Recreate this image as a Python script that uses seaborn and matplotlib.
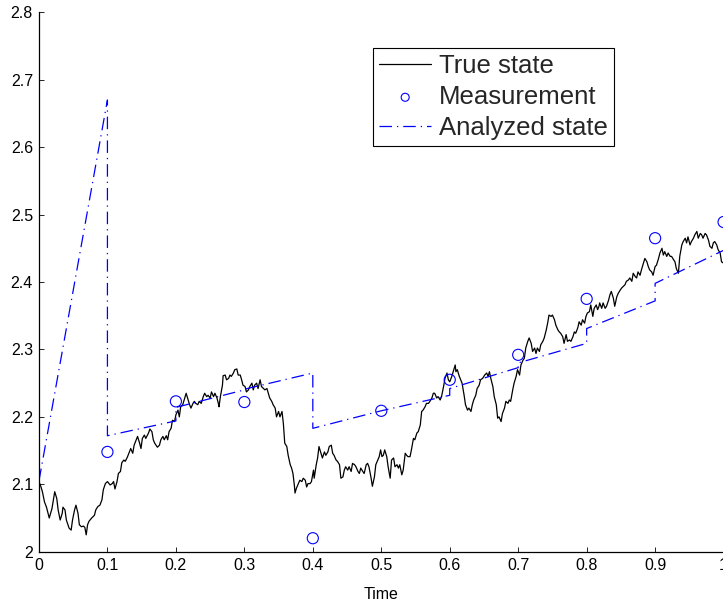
import matplotlib
matplotlib.use("Agg")
import matplotlib.pyplot as plt
import seaborn as sns
import pandas as pd

# ---------------- data ----------------
true_t = [0.000, 0.003, 0.005, 0.008, 0.011, 0.015, 0.019, 0.021, 0.023, 0.026, 0.028, 0.031, 0.034, 0.035,
          0.038, 0.040, 0.044, 0.047, 0.049, 0.052, 0.054, 0.057, 0.059, 0.062, 0.065, 0.067, 0.069, 0.071,
          0.073, 0.077, 0.081, 0.083, 0.086, 0.089, 0.092, 0.094, 0.097, 0.100, 0.104, 0.107, 0.109, 0.111,
          0.114, 0.116, 0.119, 0.121, 0.124, 0.126, 0.129, 0.132, 0.134, 0.137, 0.139, 0.142, 0.144, 0.147,
          0.149, 0.151, 0.154, 0.156, 0.160,
          0.162, 0.165, 0.167, 0.169, 0.173, 0.176, 0.178, 0.181, 0.183, 0.186, 0.188, 0.190, 0.193, 0.195,
          0.198, 0.200, 0.203, 0.205, 0.207, 0.210, 0.212, 0.215, 0.217, 0.220, 0.222, 0.225, 0.227, 0.229,
          0.232, 0.234, 0.237, 0.240, 0.242, 0.245, 0.247, 0.250, 0.252, 0.255, 0.257, 0.260, 0.262, 0.263,
          0.265, 0.268, 0.269, 0.272, 0.274, 0.277, 0.279, 0.281, 0.284, 0.286, 0.289, 0.291, 0.294, 0.296,
          0.298, 0.301, 0.303, 0.306, 0.308, 0.311, 0.313, 0.315, 0.318, 0.320,
          0.323, 0.325, 0.328, 0.330, 0.333, 0.335, 0.337, 0.340, 0.342, 0.345, 0.347, 0.350, 0.352, 0.355,
          0.357, 0.359, 0.362, 0.364, 0.367, 0.369, 0.371, 0.373, 0.374, 0.376, 0.379, 0.381, 0.384, 0.386,
          0.389, 0.391, 0.393, 0.396, 0.398, 0.401, 0.402, 0.405, 0.407, 0.409, 0.412, 0.414, 0.417, 0.419,
          0.422, 0.424, 0.427, 0.429, 0.431, 0.434, 0.436, 0.439, 0.441, 0.444, 0.446, 0.448, 0.451, 0.453,
          0.456, 0.458, 0.461, 0.463, 0.466, 0.468, 0.470, 0.473, 0.475, 0.478, 0.480, 0.482, 0.485, 0.487,
          0.490, 0.492, 0.495, 0.497, 0.499, 0.501, 0.503, 0.505, 0.508, 0.510, 0.513, 0.515, 0.518, 0.520,
          0.523, 0.525, 0.527, 0.530, 0.532, 0.535, 0.537, 0.539, 0.542, 0.544, 0.547, 0.549, 0.552, 0.554,
          0.557, 0.559, 0.561, 0.564, 0.566, 0.569, 0.571, 0.574, 0.576, 0.578, 0.581, 0.583, 0.586, 0.588,
          0.591, 0.593, 0.596, 0.598, 0.600, 0.603, 0.605, 0.608, 0.609, 0.611, 0.614, 0.616, 0.618, 0.621,
          0.623, 0.626, 0.628, 0.631, 0.633, 0.635, 0.638, 0.640, 0.643, 0.645, 0.648, 0.651,
          0.654, 0.656, 0.658, 0.660, 0.663, 0.665, 0.668, 0.670, 0.672, 0.675, 0.677, 0.680, 0.682, 0.685,
          0.687, 0.689, 0.692, 0.694, 0.697, 0.699, 0.702, 0.704, 0.707, 0.709, 0.711, 0.714, 0.716, 0.719,
          0.721, 0.724, 0.726, 0.728, 0.731, 0.733, 0.736, 0.738, 0.741, 0.743, 0.745, 0.748, 0.750, 0.753,
          0.755, 0.758, 0.760, 0.762, 0.765, 0.767, 0.770, 0.772, 0.775, 0.777, 0.780, 0.782, 0.784, 0.787,
          0.789, 0.792, 0.794, 0.797, 0.799, 0.801, 0.804, 0.806, 0.809, 0.811, 0.814, 0.816, 0.818,
          0.819, 0.822, 0.824, 0.827, 0.829, 0.832, 0.834, 0.836, 0.839, 0.841, 0.844, 0.846, 0.849, 0.851,
          0.853, 0.856, 0.858, 0.861, 0.863, 0.866, 0.868, 0.871, 0.873, 0.875, 0.878, 0.880, 0.883, 0.885,
          0.888, 0.890, 0.892, 0.895, 0.897, 0.900, 0.902, 0.905, 0.907, 0.910, 0.912, 0.914, 0.917, 0.919,
          0.922, 0.924, 0.927, 0.929, 0.931, 0.934, 0.936, 0.939, 0.941, 0.944, 0.946, 0.948, 0.951, 0.953,
          0.956, 0.958, 0.961, 0.963, 0.966, 0.968, 0.970, 0.973, 0.975, 0.978, 0.980, 0.983, 0.985, 0.987,
          0.990, 0.992, 0.995, 0.997, 1.000]

true_y = [2.104, 2.096, 2.089, 2.074, 2.066, 2.050, 2.064, 2.077, 2.089, 2.079, 2.062, 2.047, 2.057, 2.066,
          2.062, 2.047, 2.035, 2.032, 2.047, 2.062, 2.069, 2.057, 2.040, 2.037, 2.038, 2.036, 2.025, 2.040,
          2.045, 2.050, 2.054, 2.062, 2.067, 2.069, 2.077, 2.092, 2.101, 2.104, 2.099, 2.101, 2.104, 2.093,
          2.104, 2.116, 2.119, 2.132, 2.136, 2.134, 2.140, 2.148, 2.153, 2.146, 2.158, 2.166, 2.171, 2.161,
          2.153, 2.168, 2.173, 2.168, 2.176,
          2.182, 2.178, 2.166, 2.161, 2.155, 2.158, 2.166, 2.171, 2.166, 2.172, 2.166, 2.178, 2.183, 2.195,
          2.193, 2.203, 2.210, 2.200, 2.215, 2.218, 2.225, 2.235, 2.228, 2.218, 2.213, 2.220, 2.223, 2.220,
          2.218, 2.223, 2.220, 2.230, 2.235, 2.230, 2.232, 2.228, 2.237, 2.230, 2.235, 2.228, 2.220, 2.215,
          2.230, 2.247, 2.261, 2.262, 2.255, 2.257, 2.262, 2.260, 2.265, 2.270, 2.271, 2.262, 2.262, 2.255,
          2.247, 2.245, 2.237, 2.240, 2.245, 2.250, 2.240, 2.247, 2.250, 2.242,
          2.255, 2.245, 2.242, 2.240, 2.242, 2.235, 2.228, 2.223, 2.218, 2.213, 2.200, 2.208, 2.200, 2.208,
          2.190, 2.161, 2.156, 2.143, 2.129, 2.124, 2.116, 2.099, 2.087, 2.094, 2.101, 2.106, 2.104, 2.109,
          2.106, 2.096, 2.101, 2.101, 2.104, 2.121, 2.109, 2.129, 2.139, 2.156, 2.146, 2.139, 2.148, 2.143,
          2.148, 2.156, 2.158, 2.146, 2.143, 2.136, 2.134, 2.129, 2.109, 2.111, 2.121, 2.126, 2.121, 2.126,
          2.119, 2.131, 2.129, 2.126, 2.119, 2.116, 2.124, 2.119, 2.116, 2.129, 2.131, 2.126, 2.110, 2.097,
          2.111, 2.129, 2.136, 2.141, 2.151, 2.141, 2.143, 2.151, 2.141, 2.126, 2.109, 2.136, 2.139, 2.126,
          2.129, 2.124, 2.129, 2.114, 2.121, 2.146, 2.143, 2.141, 2.141, 2.151, 2.168, 2.166, 2.176, 2.178,
          2.188, 2.208, 2.210, 2.215, 2.220, 2.220, 2.223, 2.228, 2.235, 2.235, 2.228, 2.230, 2.225, 2.230,
          2.245, 2.257, 2.265, 2.255, 2.252, 2.260, 2.267, 2.277, 2.267, 2.270, 2.260, 2.255, 2.250, 2.232,
          2.218, 2.210, 2.213, 2.208, 2.218, 2.225, 2.232, 2.242, 2.247, 2.255, 2.257, 2.262,
          2.265, 2.260, 2.267, 2.257, 2.245, 2.230, 2.218, 2.198, 2.200, 2.193, 2.205, 2.213, 2.223, 2.220,
          2.225, 2.223, 2.240, 2.250, 2.260, 2.270, 2.262, 2.277, 2.284, 2.287, 2.302, 2.312, 2.317, 2.309,
          2.297, 2.302, 2.294, 2.302, 2.297, 2.307, 2.312, 2.317, 2.329, 2.339, 2.351, 2.349, 2.351, 2.344,
          2.336, 2.329, 2.326, 2.324, 2.319, 2.309, 2.322, 2.312, 2.314, 2.312, 2.319, 2.326, 2.324, 2.332,
          2.341, 2.336, 2.344, 2.339, 2.349, 2.354, 2.356, 2.366, 2.349, 2.361, 2.366, 2.359, 2.364,
          2.369, 2.361, 2.369, 2.361, 2.364, 2.373, 2.381, 2.386, 2.376, 2.364, 2.378, 2.383, 2.388, 2.391,
          2.393, 2.396, 2.401, 2.403, 2.406, 2.401, 2.413, 2.408, 2.406, 2.415, 2.410, 2.418, 2.428, 2.435,
          2.430, 2.423, 2.418, 2.415, 2.410, 2.423, 2.425, 2.435, 2.443, 2.450, 2.440, 2.445, 2.438, 2.443,
          2.438, 2.438, 2.433, 2.430, 2.420, 2.413, 2.438, 2.455, 2.460, 2.465, 2.458, 2.467, 2.455, 2.460,
          2.465, 2.470, 2.475, 2.465, 2.472, 2.470, 2.465, 2.472, 2.470, 2.462, 2.453, 2.450, 2.458, 2.460,
          2.455, 2.448, 2.443, 2.430, 2.428]

meas_t = [0.1, 0.2, 0.3, 0.4, 0.5, 0.6, 0.7, 0.8, 0.9, 1.0]
meas_y = [2.148, 2.223, 2.222, 2.020, 2.209, 2.255, 2.292, 2.375, 2.465, 2.489]

ana_t = [0.0, 0.1, 0.1, 0.2, 0.2, 0.3, 0.3, 0.4, 0.4, 0.5, 0.5, 0.6, 0.6, 0.7, 0.7, 0.8, 0.8, 0.9, 0.9, 1.0]
ana_y = [2.105, 2.670, 2.172, 2.194, 2.214, 2.240, 2.241, 2.265, 2.183, 2.209, 2.209, 2.232, 2.242, 2.273,
         2.280, 2.309, 2.331, 2.372, 2.398, 2.447]

xtick_vals = [0, 0.1, 0.2, 0.3, 0.4, 0.5, 0.6, 0.7, 0.8, 0.9, 1.0]
xtick_labels = ["0", "0.1", "0.2", "0.3", "0.4", "0.5", "0.6", "0.7", "0.8", "0.9", "1"]
ytick_vals = [2.0, 2.1, 2.2, 2.3, 2.4, 2.5, 2.6, 2.7, 2.8]
ytick_labels = ["2", "2.1", "2.2", "2.3", "2.4", "2.5", "2.6", "2.7", "2.8"]

# ---------------- style ----------------
sns.set_style("ticks")
plt.rcParams["font.family"] = ["Liberation Sans", "DejaVu Sans"]

fig = plt.figure(figsize=(7.23, 6.07), dpi=100)
ax = fig.add_axes([0.0539, 0.0911, 0.9469, 0.8886])

df_true = pd.DataFrame({"Time": true_t, "value": true_y})
df_meas = pd.DataFrame({"Time": meas_t, "value": meas_y})
df_ana = pd.DataFrame({"Time": ana_t, "value": ana_y})

sns.lineplot(data=df_true, x="Time", y="value", ax=ax, color="black", linewidth=0.9,
             estimator=None, sort=False, label="True state")
sns.scatterplot(data=df_meas, x="Time", y="value", ax=ax, marker="o", s=64,
                color="blue", facecolor="none", edgecolor="blue", linewidth=0.8,
                label="Measurement", clip_on=False, zorder=3)
sns.lineplot(data=df_ana, x="Time", y="value", ax=ax, color="blue", linewidth=0.9,
             estimator=None, sort=False, label="Analyzed state",
             linestyle=(0, (10.0, 4.0, 1.0, 4.0)))

ax.set_xlim(0, 1)
ax.set_ylim(2.0, 2.8)
ax.set_xticks(xtick_vals)
ax.set_xticklabels(xtick_labels)
ax.set_yticks(ytick_vals)
ax.set_yticklabels(ytick_labels)
ax.set_xlabel("Time", fontsize=11.5, labelpad=10, color="black")
ax.set_ylabel("")

ax.tick_params(direction="in", length=3.6, width=0.6, labelsize=11.5, pad=4.3,
               colors="black")
for side in ["top", "right"]:
    ax.spines[side].set_visible(False)
for side in ["left", "bottom"]:
    ax.spines[side].set_linewidth(0.9)
    ax.spines[side].set_color("black")

handles, labels = ax.get_legend_handles_labels()
leg = ax.legend(handles, labels, loc="upper left", bbox_to_anchor=(0.488, 0.934),
                borderaxespad=0, fontsize=18.5, frameon=True, fancybox=False,
                framealpha=1, edgecolor="black", handlelength=2.0, handletextpad=0.3,
                labelspacing=0.26, borderpad=0.25, markerscale=0.72)
leg.get_frame().set_linewidth(0.8)

fig.savefig("out.png", dpi=100)
